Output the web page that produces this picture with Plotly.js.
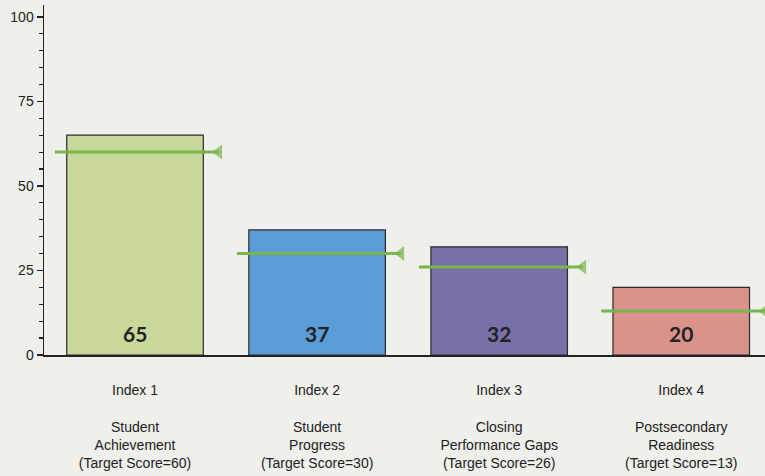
<!DOCTYPE html>
<html>
<head>
<meta charset="utf-8">
<script src="https://cdn.plot.ly/plotly-3.0.1.min.js"></script>
<style>html,body{margin:0;padding:0;background:#efefec;}#chart{width:765px;height:476px;}</style>
</head>
<body>
<div id="chart"></div>
<script>
var indexNames = ["Index 1", "Index 2", "Index 3", "Index 4"];
var areaNames = [["Student", "Achievement"], ["Student", "Progress"], ["Closing", "Performance Gaps"], ["Postsecondary", "Readiness"]];
var scores = [65, 37, 32, 20];
var targets = [60, 30, 26, 13];
var barColors = ["#c8d89b", "#5b9bd6", "#7771a8", "#d9938a"];

var positions = indexNames.map(function (_, i) { return i; });
var tickText = indexNames.map(function (n, i) {
  return n + "<br><br>" + areaNames[i].join("<br>") + "<br>(Target Score=" + targets[i] + ")";
});

var traces = [{
  type: "bar",
  x: positions,
  y: scores,
  width: 0.75,
  marker: { color: barColors, line: { color: "#2a2a2a", width: 1.2 } },
  hoverinfo: "skip",
  showlegend: false
}];

targets.forEach(function (t, i) {
  traces.push({
    type: "scatter",
    mode: "lines+markers",
    x: [i - 0.44, i + 0.46],
    y: [t, t],
    line: { color: "#78b54a", width: 3 },
    marker: { symbol: ["circle", "triangle-left"], size: [0, 13], color: "#78b54a", line: { width: 0 } },
    hoverinfo: "skip",
    showlegend: false
  });
});

var annotations = scores.map(function (s, i) {
  return {
    x: i, y: 0, xref: "x", yref: "y",
    text: "<b>" + s + "</b>",
    showarrow: false, yanchor: "bottom", yshift: 7,
    font: { family: "Lato, 'Open Sans', sans-serif", size: 21, color: "#222" }
  };
});

var layout = {
  width: 765, height: 476,
  margin: { l: 44, r: 0, t: 5, b: 121 },
  paper_bgcolor: "#efefec",
  plot_bgcolor: "#efefec",
  font: { family: "'Liberation Sans', Arial, sans-serif", color: "#222" },
  xaxis: {
    range: [-0.5, 3.46],
    tickvals: positions,
    ticktext: tickText,
    ticks: "",
    ticklabelstandoff: 22,
    tickfont: { size: 14, color: "#222" },
    showgrid: false, zeroline: false,
    showline: true, linecolor: "#222", linewidth: 1.5,
    fixedrange: true
  },
  yaxis: {
    range: [0, 103.5],
    tickvals: [0, 25, 50, 75, 100],
    ticks: "outside", ticklen: 6, tickwidth: 1.5, tickcolor: "#222",
    tickfont: { size: 14, color: "#222" },
    minor: { dtick: 5, ticks: "outside", ticklen: 4, tickcolor: "#222", tickwidth: 1.2, showgrid: false },
    showgrid: false, zeroline: false,
    showline: true, linecolor: "#222", linewidth: 1.5,
    fixedrange: true
  },
  annotations: annotations,
  showlegend: false
};

Plotly.newPlot("chart", traces, layout, { displayModeBar: false, staticPlot: true });
</script>
</body>
</html>
